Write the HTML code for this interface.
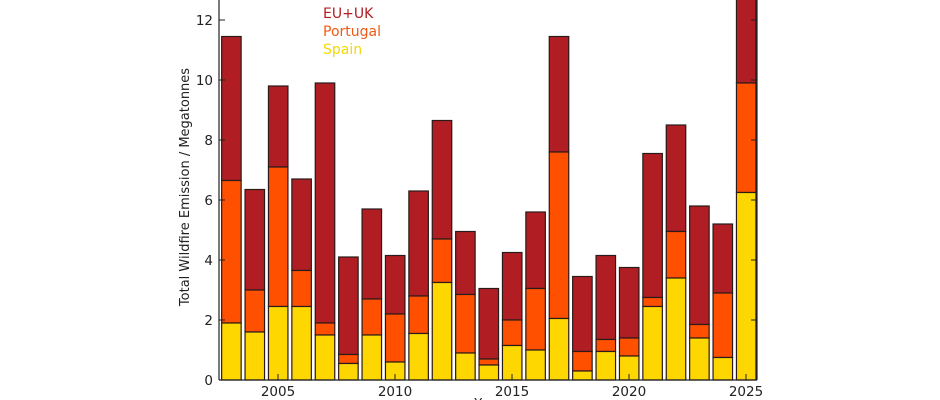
<!DOCTYPE html>
<html><head><meta charset="utf-8"><style>
html,body{margin:0;padding:0;background:#fff;width:940px;height:400px;overflow:hidden}
svg{display:block;font-family:"DejaVu Sans","Liberation Sans",sans-serif}
</style></head><body>
<svg id="c" width="940" height="400" viewBox="0 0 940 400">
<g id="bars"></g>
<line x1="219" y1="0" x2="219" y2="380" stroke="#222" stroke-width="1.2"/>
<line x1="757" y1="0" x2="757" y2="380" stroke="#222" stroke-width="1.2"/>
<line x1="219" y1="380" x2="757" y2="380" stroke="#222" stroke-width="1.2"/>
<g id="ticks" stroke="#222" stroke-width="1"></g>
<g font-size="13.5" fill="#222" text-anchor="end" id="ylab"></g>
<g font-size="13.5" fill="#222" text-anchor="middle">
<text x="278" y="396">2005</text><text x="395" y="396">2010</text><text x="512" y="396">2015</text><text x="629" y="396">2020</text><text x="746" y="396">2025</text>
</g>
<text x="488" y="408" font-size="13" text-anchor="middle" fill="#222">Year</text>
<text transform="translate(189,187) rotate(-90)" font-size="13" text-anchor="middle" fill="#222">Total Wildfire Emission / Megatonnes</text>
<g font-size="14">
<text x="323" y="18" fill="#b01e23">EU+UK</text>
<text x="323" y="36" fill="#f05a14">Portugal</text>
<text x="323" y="54" fill="#f5d800">Spain</text>
</g>
</svg>
<script>
var d=[[1.9,6.65,11.45],[1.6,3.0,6.35],[2.45,7.1,9.8],[2.45,3.65,6.7],[1.5,1.9,9.9],[0.55,0.85,4.1],[1.5,2.7,5.7],[0.6,2.2,4.15],[1.55,2.8,6.3],[3.25,4.7,8.65],[0.9,2.85,4.95],[0.5,0.7,3.05],[1.15,2.0,4.25],[1.0,3.05,5.6],[2.05,7.6,11.45],[0.3,0.95,3.45],[0.95,1.35,4.15],[0.8,1.4,3.75],[2.45,2.75,7.55],[3.4,4.95,8.5],[1.4,1.85,5.8],[0.75,2.9,5.2],[6.25,9.9,13.5]];
var ns="http://www.w3.org/2000/svg",g=document.getElementById("bars");
function Y(v){return 380-v*30}
function r(x,y0,y1,c){var e=document.createElementNS(ns,"rect");e.setAttribute("x",x);e.setAttribute("y",Y(y1));e.setAttribute("width",19.5);e.setAttribute("height",Y(y0)-Y(y1));e.setAttribute("fill",c);e.setAttribute("stroke","#2a1a1a");e.setAttribute("stroke-width","1.2");g.appendChild(e)}
d.forEach(function(b,i){var x=231.4+i*23.4-9.75;r(x,b[1],b[2],"#b01e23");r(x,b[0],b[1],"#ff5000");r(x,0,b[0],"#ffd700");});
var t=document.getElementById("ticks"),yl=document.getElementById("ylab");
for(var v=0;v<=12;v+=2){var y=Y(v);
 var l=document.createElementNS(ns,"line");l.setAttribute("x1",219);l.setAttribute("x2",225);l.setAttribute("y1",y);l.setAttribute("y2",y);t.appendChild(l);
 l=document.createElementNS(ns,"line");l.setAttribute("x1",751);l.setAttribute("x2",757);l.setAttribute("y1",y);l.setAttribute("y2",y);t.appendChild(l);
 var tx=document.createElementNS(ns,"text");tx.setAttribute("x",213);tx.setAttribute("y",y+5);tx.textContent=v;yl.appendChild(tx);}
[278,395,512,629,746].forEach(function(x){var l=document.createElementNS(ns,"line");l.setAttribute("x1",x);l.setAttribute("x2",x);l.setAttribute("y1",374);l.setAttribute("y2",380);t.appendChild(l);});
</script>
</body></html>
